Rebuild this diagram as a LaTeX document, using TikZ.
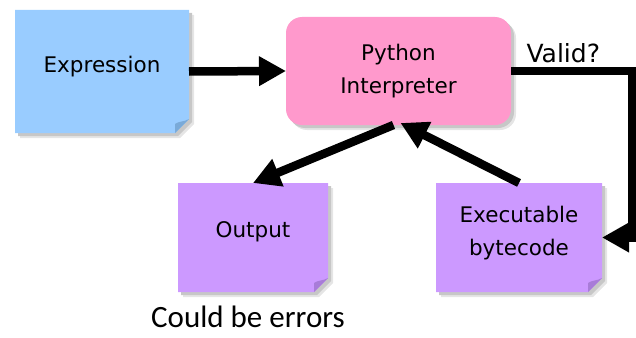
\documentclass[tikz,border=0pt]{standalone}
\usepackage{fontspec}
\setmainfont{DejaVu Sans}
\newfontfamily\carl{Carlito}
\usetikzlibrary{arrows.meta,calc}
\definecolor{blueN}{HTML}{99CCFF}
\definecolor{blueF}{HTML}{7AAAD8}
\definecolor{pinkN}{HTML}{FF99CC}
\definecolor{purpN}{HTML}{CC99FF}
\definecolor{purpF}{HTML}{A87CD8}
\tikzset{
  boxtext/.style={font=\fontsize{21.5}{33}\selectfont, align=center},
  holder/.style={inner sep=0pt, outer sep=0pt},
  arr/.style={line width=8.5pt, -{Triangle[length=27pt,width=28pt]}, line join=miter},
  shadowA/.style={fill=black!22},
  shadowB/.style={fill=black!10},
}
% note shape: x1 y1 x2 y2 fill fold
\newcommand{\mynote}[6]{%
  \fill[shadowB] (#1+5,#2+5) -- (#3+5,#2+5) -- (#3+5,#4+5-14) -- (#3+5-14,#4+5) -- (#1+5,#4+5) -- cycle;
  \fill[shadowA] (#1+3,#2+3) -- (#3+3,#2+3) -- (#3+3,#4+3-14) -- (#3+3-14,#4+3) -- (#1+3,#4+3) -- cycle;
  \fill[#5] (#1,#2) -- (#3,#2) -- (#3,#4-14) -- (#3-14,#4) -- (#1,#4) -- cycle;
  \fill[#6] (#3,#4-14) .. controls (#3-5,#4-11) and (#3-10,#4-12) .. (#3-14,#4-9) -- (#3-14,#4) -- cycle;
}
\begin{document}
\begin{tikzpicture}[x=1pt,y=-1pt]
\useasboundingbox (0,0) rectangle (636,337);
% shapes
\mynote{15}{10}{189}{133}{blueN}{blueF}
\mynote{178}{183}{328}{292}{purpN}{purpF}
\mynote{436}{183}{602}{292}{purpN}{purpF}
\fill[black!10, rounded corners=16pt] (291,22) rectangle (516,130);
\fill[black!22, rounded corners=16pt] (289,20) rectangle (514,128);
\fill[pinkN, rounded corners=16pt] (286,17) rectangle (511,125);
% nodes
\node[holder, minimum width=174pt, minimum height=123pt,
  label={[boxtext, yshift=5pt]center:Expression}] (expr) at (102,71.5) {};
\node[holder, boxtext, minimum width=225pt, minimum height=108pt] (interp) at (398.5,71) {Python\\Interpreter};
\node[holder, minimum width=150pt, minimum height=109pt,
  label={[boxtext, yshift=6pt]center:Output}] (out) at (253,237.5) {};
\node[holder, minimum width=166pt, minimum height=109pt,
  label={[boxtext, yshift=4pt]center:Executable\\bytecode}] (byte) at (519,237.5) {};
\node[anchor=base west, font=\fontsize{25}{30}\selectfont] (valid) at (523,63) {Valid?};
\node[anchor=base west, inner sep=0pt, text depth=0pt, font=\carl\fontsize{31}{34}\selectfont] (err) at (151,327) {Could be errors};
\coordinate (c1) at (632,71);
\coordinate (c2) at (632,237.5);
% connectors
\draw[arr] (expr.east) -- (interp.west);
\draw[arr] (interp.east) -- (c1) -- (c2) -- (byte.east);
\draw[arr] ($(interp.south)+(-5,0)$) -- (out.north);
\draw[arr] (byte.north) -- ($(interp.south)+(2,-2)$);
\end{tikzpicture}
\end{document}
